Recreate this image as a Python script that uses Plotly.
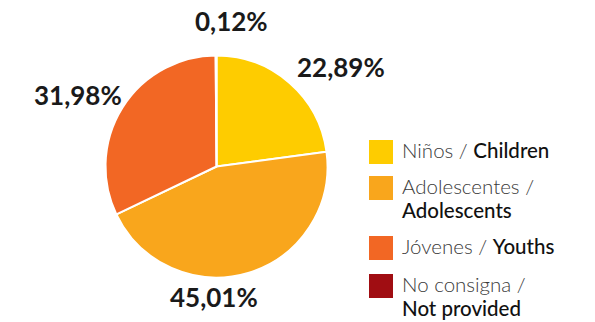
import plotly.graph_objects as go

# ---- data ----
categories_es = ["Niños", "Adolescentes", "Jóvenes", "No consigna"]
categories_en = ["Children", "Adolescents", "Youths", "Not provided"]
values = [22.89, 45.01, 31.98, 0.12]
colors = ["#FECC00", "#F9A61C", "#F26724", "#A00D12"]
legend_break = [False, True, False, True]

# ---- layout helpers (pixel positions) ----
W, H = 595, 322
cx, cy, r = 216.5, 166.5, 111
label_pos = [(341, 67), (214, 297), (78, 95), (231, 21)]
legend_sq_top = [140, 176, 236, 274]
sq_x, sq = 369, 24
text_x = 401
line_gap = 24
text_shift = -2

def px(x):
    return x / W

def py(y):
    return 1 - y / H

fig = go.Figure()
fig.add_trace(go.Pie(
    labels=[f"{a} / {b}" for a, b in zip(categories_es, categories_en)],
    values=values,
    sort=False,
    direction="clockwise",
    rotation=0,
    marker=dict(colors=colors, line=dict(color="white", width=2)),
    textinfo="none",
    hoverinfo="label+percent",
    domain=dict(x=[px(cx - r), px(cx + r)], y=[py(cy + r), py(cy - r)]),
    showlegend=False,
))

annotations = []
for v, (lx, ly) in zip(values, label_pos):
    annotations.append(dict(
        x=px(lx), y=py(ly), xref="paper", yref="paper",
        text=f"{v:.2f}".replace(".", ",") + "%",
        showarrow=False, xanchor="center", yanchor="middle",
        font=dict(family="Lato", size=26, color="#1a1a1a", weight="bold"),
    ))

light = dict(family="Lato", size=20.5, color="#3a3a3a", weight=300)
en_span = "<span style='font-weight:500;color:#111111'>{}</span>"

shapes = []
for es, en, col, brk, top in zip(categories_es, categories_en, colors, legend_break, legend_sq_top):
    shapes.append(dict(
        type="rect", xref="paper", yref="paper",
        x0=px(sq_x), x1=px(sq_x + sq), y0=py(top + sq), y1=py(top),
        fillcolor=col, line=dict(width=0),
    ))
    mid = top + sq / 2 + text_shift
    if brk:
        lines = [f"{es} /", en_span.format(en)]
    else:
        lines = [f"{es} / " + en_span.format(en)]
    for i, t in enumerate(lines):
        annotations.append(dict(
            x=px(text_x), y=py(mid + i * line_gap), xref="paper", yref="paper",
            text=t, showarrow=False, xanchor="left", yanchor="middle", align="left",
            font=light, borderpad=0,
        ))

fig.update_layout(
    width=W, height=H,
    margin=dict(l=0, r=0, t=0, b=0),
    paper_bgcolor="white", plot_bgcolor="white",
    annotations=annotations, shapes=shapes,
    showlegend=False,
)

fig.write_html("out.html")
